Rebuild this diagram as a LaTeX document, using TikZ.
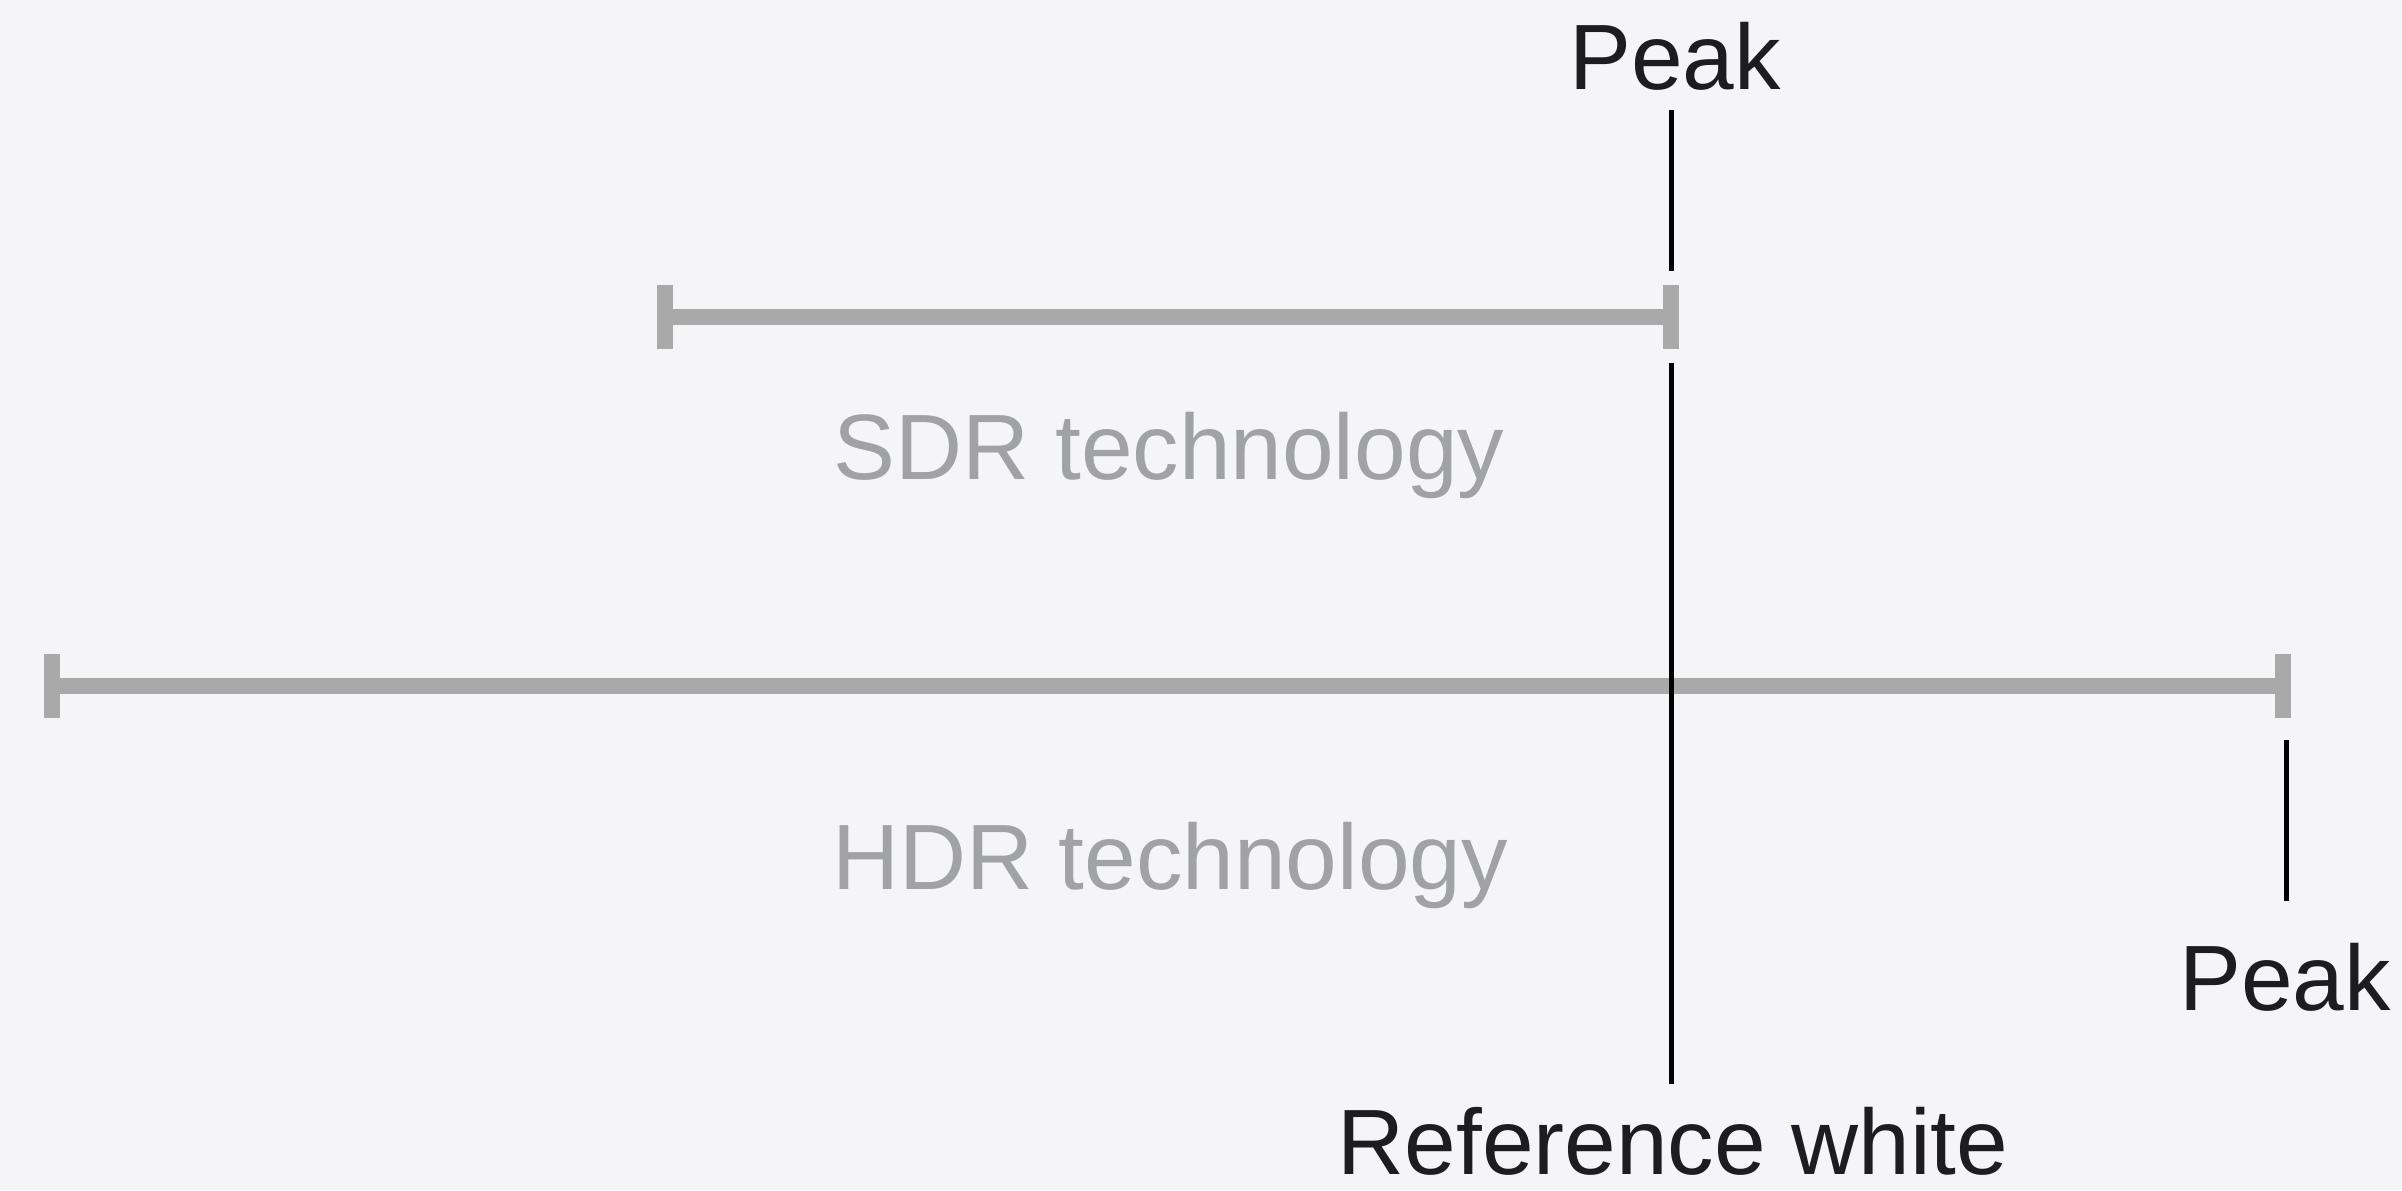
\documentclass[tikz,border=0pt]{standalone}
\usepackage{fontspec}
\setmainfont{Liberation Sans}
\usetikzlibrary{positioning}
\definecolor{fondo}{HTML}{F5F5F7}
\definecolor{barra}{HTML}{A9A9A9}
\definecolor{gristexto}{HTML}{A1A2A4}
\definecolor{negro}{HTML}{1D1D1F}
\begin{document}
\begin{tikzpicture}[x=0.01cm, y=-0.01cm]
            % Estilos
            \tikzstyle{label} = [font=\fontsize{26.4}{30}\selectfont, text=negro, inner sep=0pt, anchor=base]
            \tikzstyle{grey} = [label, text=gristexto]
            \tikzstyle{bar} = [draw=barra, line width=0.16cm]
            \tikzstyle{endtick} = [draw=barra, line width=0.16cm]
            \tikzstyle{marker} = [draw=black, line width=0.05cm]

            \fill[fondo] (0,0) rectangle (2402,1190);
            \useasboundingbox (0,0) rectangle (2402,1190);

            \node [label] (toppeak) at (1675,89) {Peak};
            \node [grey] (sdr) at (1169,479) {SDR technology};
            \node [grey] (hdr) at (1170,889) {HDR technology};
            \node [label] (hdrpeak) at (2285,1010) {Peak};
            \node [label] (refwhite) at (1673,1174) {Reference white};

            \coordinate (sdrleft) at (665,317);
            \coordinate (sdrright) at (1671,317);
            \coordinate (hdrleft) at (52,686);
            \coordinate (hdrright) at (2283,686);

            \draw [bar] (sdrleft) -- (sdrright);
            \draw [endtick] ([yshift=-0.32cm]sdrleft) -- ([yshift=0.32cm]sdrleft);
            \draw [endtick] ([yshift=-0.32cm]sdrright) -- ([yshift=0.32cm]sdrright);
            \draw [bar] (hdrleft) -- (hdrright);
            \draw [endtick] ([yshift=-0.32cm]hdrleft) -- ([yshift=0.32cm]hdrleft);
            \draw [endtick] ([yshift=-0.32cm]hdrright) -- ([yshift=0.32cm]hdrright);

            \coordinate (peaktop) at (1671,110);
            \coordinate (peakbot) at (1671,271);
            \coordinate (reftop) at (1671,363);
            \coordinate (refbot) at (1671,1084);
            \coordinate (hdrtop) at (2286,740);
            \coordinate (hdrbot) at (2286,901);

            \draw [marker] (peaktop) -- (peakbot);
            \draw [marker] (reftop) -- (refbot);
            \draw [marker] (hdrtop) -- (hdrbot);
\end{tikzpicture}
\end{document}
